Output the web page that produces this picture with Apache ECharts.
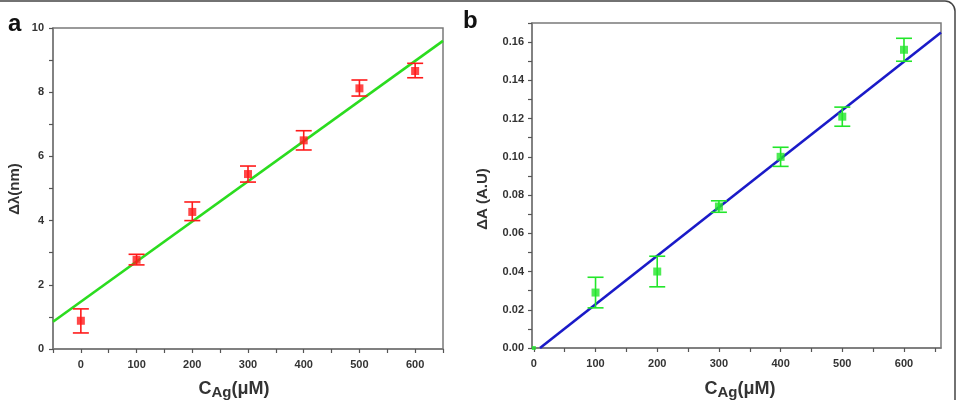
<!DOCTYPE html>
<html>
<head>
<meta charset="utf-8">
<script src="https://cdn.jsdelivr.net/npm/echarts@6/dist/echarts.min.js"></script>
<style>
  html, body { margin: 0; padding: 0; background: #fff; }
  #chart { width: 957px; height: 400px; }
</style>
</head>
<body>
<div id="chart"></div>
<script>
// panel a: wavelength shift
const concA = [0, 100, 200, 300, 400, 500, 600];
const shiftA = [0.88, 2.78, 4.27, 5.45, 6.5, 8.12, 8.66];
const shiftLowA = [0.5, 2.62, 4.0, 5.2, 6.2, 7.88, 8.45];
const shiftHighA = [1.25, 2.95, 4.58, 5.7, 6.8, 8.38, 8.9];
const fitA = [[-50, 0.85], [650, 9.6]];

// panel b: absorbance change
const concB = [0, 100, 200, 300, 400, 500, 600];
const absB = [0.0, 0.029, 0.040, 0.074, 0.100, 0.121, 0.156];
const absLowB = [0.0, 0.021, 0.032, 0.071, 0.095, 0.116, 0.150];
const absHighB = [0.0, 0.037, 0.048, 0.077, 0.105, 0.126, 0.162];
const fitB = [[10, 0], [660, 0.165]];

const xTicksB = [0, 50, 100, 150, 200, 250, 300, 350, 400, 450, 500, 550, 600, 650];
const xLabelsB = [0, 100, 200, 300, 400, 500, 600];

const axisGray = '#7a7a7a';
const labelStyle = {
  color: '#333',
  fontFamily: 'Liberation Sans, Arial, sans-serif',
  fontWeight: 'bold',
  fontSize: 11
};

const errorBar = (color) => function(params, api) {
  const x = api.value(0);
  if (api.value(1) === api.value(2)) return null;
  const lo = api.coord([x, api.value(1)]);
  const hi = api.coord([x, api.value(2)]);
  const w = 8;
  const style = { stroke: color, lineWidth: 1.6 };
  return {
    type: 'group',
    children: [
      { type: 'line', shape: { x1: lo[0], y1: lo[1], x2: hi[0], y2: hi[1] }, style },
      { type: 'line', shape: { x1: lo[0] - w, y1: lo[1], x2: lo[0] + w, y2: lo[1] }, style },
      { type: 'line', shape: { x1: hi[0] - w, y1: hi[1], x2: hi[0] + w, y2: hi[1] }, style }
    ]
  };
};

const baseAxis = {
  axisLine: { show: true, onZero: false, lineStyle: { color: axisGray, width: 1.5 } },
  axisTick: { show: true, inside: false, length: 4, lineStyle: { color: '#555', width: 1.2 } },
  splitLine: { show: false }
};

const chart = echarts.init(document.getElementById('chart'));

const option = {
  animation: false,
  grid: [
    { left: 53, right: 514, top: 28, bottom: 51, show: true, borderColor: axisGray, borderWidth: 1.5 },
    { left: 532, right: 16, top: 23, bottom: 52, show: true, borderColor: axisGray, borderWidth: 1.5 }
  ],
  xAxis: [
    {
      ...baseAxis,
      gridIndex: 0,
      type: 'value',
      min: -50,
      max: 650,
      interval: 50,
      axisLabel: {
        ...labelStyle,
        margin: 10,
        formatter: v => (v % 100 === 0 ? String(v) : '')
      }
    },
    {
      ...baseAxis,
      gridIndex: 1,
      type: 'value',
      min: -3,
      max: 660,
      axisTick: { ...baseAxis.axisTick, customValues: xTicksB },
      axisLabel: { ...labelStyle, margin: 10, customValues: xLabelsB }
    }
  ],
  yAxis: [
    {
      ...baseAxis,
      gridIndex: 0,
      type: 'value',
      min: 0,
      max: 10,
      interval: 1,
      axisLabel: {
        ...labelStyle,
        margin: 9,
        formatter: v => (v % 2 === 0 ? String(v) : '')
      }
    },
    {
      ...baseAxis,
      gridIndex: 1,
      type: 'value',
      min: 0,
      max: 0.17,
      interval: 0.01,
      axisLabel: {
        ...labelStyle,
        margin: 8,
        formatter: v => (Math.round(v * 100) % 2 === 0 ? v.toFixed(2) : '')
      }
    }
  ],
  graphic: [
    {
      type: 'rect',
      shape: { x: -10, y: 1, width: 965, height: 430, r: 10 },
      style: { fill: 'none', stroke: '#444', lineWidth: 1.5 },
      silent: true
    },
    {
      type: 'text', left: 8, top: 12,
      style: { text: 'a', fontSize: 24, fontWeight: 'bold', fontFamily: 'Liberation Sans, Arial', fill: '#111' }
    },
    {
      type: 'text', left: 463, top: 9,
      style: { text: 'b', fontSize: 24, fontWeight: 'bold', fontFamily: 'Liberation Sans, Arial', fill: '#111' }
    },
    {
      type: 'text', x: 15, y: 189, rotation: Math.PI / 2,
      style: {
        text: 'Δλ(nm)', fontSize: 15, fontWeight: 'bold', fontFamily: 'Liberation Sans, Arial',
        fill: '#333', align: 'center', verticalAlign: 'middle'
      }
    },
    {
      type: 'text', x: 483, y: 199, rotation: Math.PI / 2,
      style: {
        text: 'ΔA (A.U)', fontSize: 15, fontWeight: 'bold', fontFamily: 'Liberation Sans, Arial',
        fill: '#333', align: 'center', verticalAlign: 'middle'
      }
    },
    ...[[234, 'a'], [740, 'b']].map(([cx]) => ({
      type: 'text', x: cx, y: 389,
      style: {
        text: '{c|C}{s|Ag}{c|(μM)}',
        align: 'center', verticalAlign: 'middle',
        rich: {
          c: { fontSize: 18, fontWeight: 'bold', fontFamily: 'Liberation Sans, Arial', fill: '#333' },
          s: { fontSize: 15, fontWeight: 'bold', fontFamily: 'Liberation Sans, Arial', fill: '#333', padding: [8, 0, 0, 0] }
        }
      }
    }))
  ],
  series: [
    {
      type: 'line',
      xAxisIndex: 0, yAxisIndex: 0,
      data: fitA,
      symbol: 'none',
      lineStyle: { color: '#2bdc1f', width: 2.6 },
      z: 2
    },
    {
      type: 'custom',
      xAxisIndex: 0, yAxisIndex: 0,
      data: concA.map((x, i) => [x, shiftLowA[i], shiftHighA[i]]),
      encode: { x: 0, y: [1, 2] },
      renderItem: errorBar('#ff1a1a'),
      z: 3
    },
    {
      type: 'scatter',
      xAxisIndex: 0, yAxisIndex: 0,
      data: concA.map((x, i) => [x, shiftA[i]]),
      symbol: 'rect',
      symbolSize: 8,
      itemStyle: { color: '#ff1a1a' },
      z: 4
    },
    {
      type: 'line',
      xAxisIndex: 1, yAxisIndex: 1,
      data: fitB,
      symbol: 'none',
      lineStyle: { color: '#1a1ac8', width: 2.6 },
      z: 2
    },
    {
      type: 'custom',
      xAxisIndex: 1, yAxisIndex: 1,
      data: concB.map((x, i) => [x, absLowB[i], absHighB[i]]),
      encode: { x: 0, y: [1, 2] },
      renderItem: errorBar('#22e62a'),
      z: 3
    },
    {
      type: 'scatter',
      xAxisIndex: 1, yAxisIndex: 1,
      data: concB.map((x, i) => [x, absB[i]]),
      symbol: 'rect',
      symbolSize: v => (v[1] === 0 ? 4 : 8),
      itemStyle: { color: '#22e62a' },
      z: 4
    }
  ]
};

chart.setOption(option);
</script>
</body>
</html>
